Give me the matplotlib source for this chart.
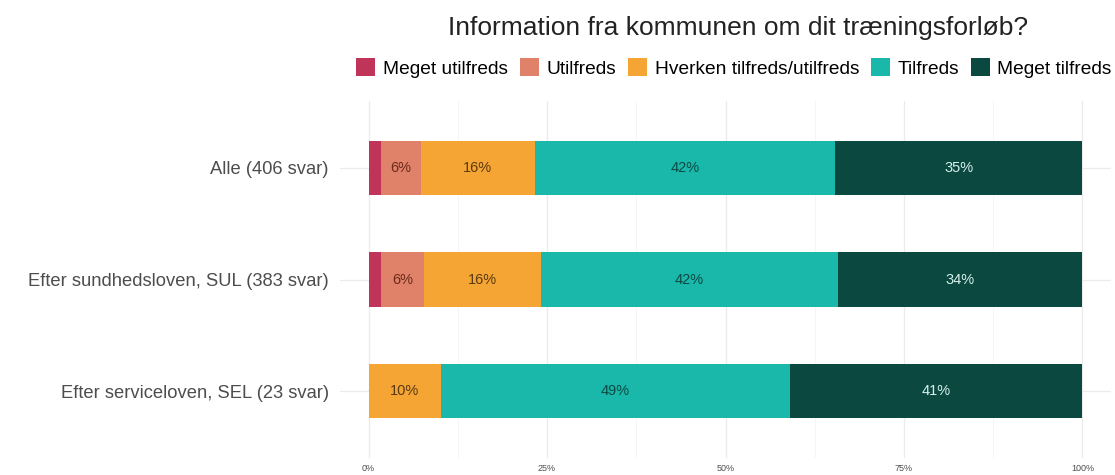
#!/usr/bin/env python3
"""Stacked satisfaction bars: information fra kommunen om træningsforløb."""

import matplotlib
matplotlib.use("Agg")
import matplotlib.pyplot as plt
from matplotlib.patches import Patch
from matplotlib.ticker import MultipleLocator

plt.rcParams["font.family"] = ["Liberation Sans", "DejaVu Sans"]

TITLE = "Information fra kommunen om dit træningsforløb?"

# groups, top to bottom
groups = ["Alle (406 svar)",
          "Efter sundhedsloven, SUL (383 svar)",
          "Efter serviceloven, SEL (23 svar)"]

levels = ["Meget utilfreds", "Utilfreds", "Hverken tilfreds/utilfreds",
          "Tilfreds", "Meget tilfreds"]

# percent per level, one value per group
meget_utilfreds = [1.7, 1.8, 0.0]
utilfreds = [5.6, 5.9, 0.0]
hverken = [16.0, 16.4, 10.1]
tilfreds = [42.1, 41.7, 48.9]
meget_tilfreds = [34.6, 34.2, 41.0]

x_ticks = [0, 25, 50, 75, 100]
x_ticklabels = ["0%", "25%", "50%", "75%", "100%"]

colors = ["#c0345a", "#e0826a", "#f5a534", "#1ab8aa", "#0b4840"]
text_colors = ["#5a1428", "#6b2a1a", "#5a3a10", "#0d4a45", "#d6f0ec"]

series = [meget_utilfreds, utilfreds, hverken, tilfreds, meget_tilfreds]

fig = plt.figure(figsize=(11.15, 4.75), dpi=100)
W, H = 1115, 475
# axes in pixel terms: x -4..104 -> 340..1111 px, y 0.4..3.6 -> 101..458 px
ax = fig.add_axes([340 / W, 1 - 458 / H, (1111 - 340) / W, (458 - 101) / H])

ypos = [1, 2, 3]
left = [0.0] * len(groups)
for vals, col, tcol in zip(series, colors, text_colors):
    ax.barh(ypos, vals, left=left, height=0.49, color=col, zorder=2)
    for y, l, v in zip(ypos, left, vals):
        if v >= 5:
            ax.text(l + v / 2, y, f"{round(v)}%", ha="center", va="center",
                    fontsize=10.5, color=tcol, zorder=3)
    left = [a + b for a, b in zip(left, vals)]

ax.set_xlim(-4, 104)
ax.set_ylim(3.6, 0.4)
ax.set_yticks(ypos)
ax.set_yticklabels(groups, fontsize=13.2, color="#4d4d4d")
ax.set_xticks(x_ticks)
ax.set_xticklabels(x_ticklabels, fontsize=6.5, color="#4d4d4d")
ax.xaxis.set_minor_locator(MultipleLocator(12.5))
ax.tick_params(axis="both", which="both", length=0)
ax.tick_params(axis="y", pad=8)
ax.tick_params(axis="x", pad=4)
ax.grid(True, which="major", color="#ebebeb", linewidth=0.9, zorder=0)
ax.grid(True, which="minor", axis="x", color="#f4f4f4", linewidth=0.6, zorder=0)
ax.set_axisbelow(True)
for s in ax.spines.values():
    s.set_visible(False)

fig.text(738 / W, 1 - 28 / H, TITLE, ha="center", va="center",
         fontsize=19, color="#222222")

handles = [Patch(facecolor=c, label=l) for c, l in zip(colors, levels)]
fig.legend(handles=handles, loc="center", bbox_to_anchor=(734 / W, 1 - 68 / H),
           ncol=5, frameon=False, fontsize=13.8, handlelength=1.0,
           handleheight=1.0, handletextpad=0.4, columnspacing=0.6,
           borderaxespad=0, borderpad=0)

fig.savefig("out.png", dpi=100)
plt.close(fig)
